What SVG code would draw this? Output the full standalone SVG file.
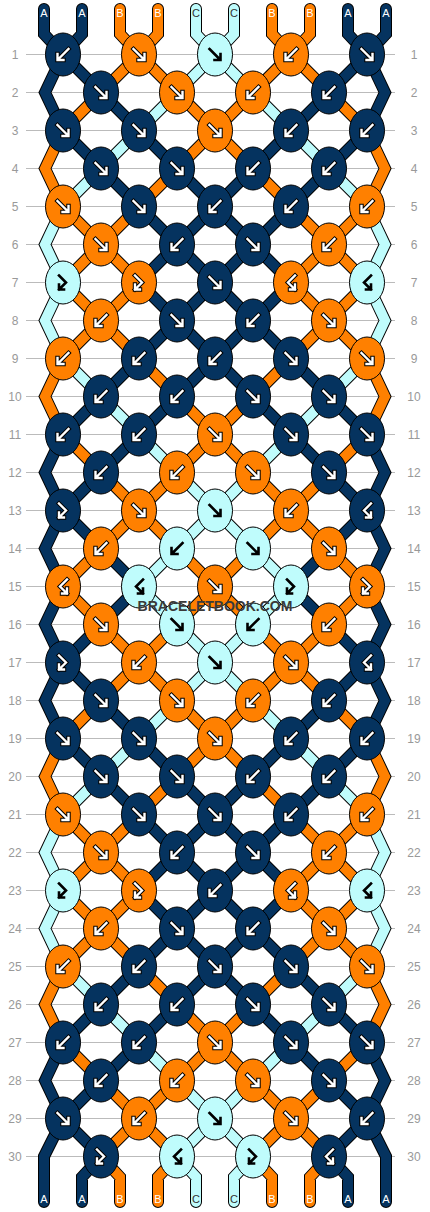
<svg xmlns="http://www.w3.org/2000/svg" xmlns:xlink="http://www.w3.org/1999/xlink" width="430" height="1212" viewBox="0 0 430 1212">
<style>
.A{fill:#05335f}.B{fill:#ff8000}.C{fill:#bffcfc}
ellipse{stroke:#000;stroke-width:1}
.ol{fill:none;stroke:#000;stroke-width:12;stroke-linecap:round;stroke-linejoin:miter}
.sA{fill:none;stroke:#05335f;stroke-width:10;stroke-linecap:round;stroke-linejoin:miter}
.sB{fill:none;stroke:#ff8000;stroke-width:10;stroke-linecap:round;stroke-linejoin:miter}
.sC{fill:none;stroke:#bffcfc;stroke-width:10;stroke-linecap:round;stroke-linejoin:miter}
.ao{fill:none;stroke:#000;stroke-width:4.4;stroke-linecap:square}
.aw{fill:none;stroke:#fff;stroke-width:2.4;stroke-linecap:square}
.ak{fill:none;stroke:#000;stroke-width:2.6;stroke-linecap:square}
.rl{fill:none;stroke:#bbb;stroke-width:1}
.rn{font-family:"Liberation Sans",Arial,sans-serif;font-size:12px;fill:#999;text-anchor:middle}
.lb{font-family:"Liberation Sans",Arial,sans-serif;font-size:11px;text-anchor:middle;fill:#fff}
.lc{fill:#333}
.wm{font-family:"Liberation Sans",Arial,sans-serif;font-size:14px;font-weight:bold;fill:#3a3a3a;text-anchor:middle}
</style>
<defs>
<path id="aF" d="M-5.5-5.5L4.5 4.5M-0.5 5.5H5.5V-0.5"/>
<path id="aB" d="M5.5-5.5L-4.5 4.5M0.5 5.5H-5.5V-0.5"/>
<path id="aFB" d="M-4-7L3 0L-4 7M-4 2V7H1"/>
<path id="aBF" d="M4-7L-3 0L4 7M4 2V7H-1"/>
<g id="wF"><use href="#aF" class="ao"/><use href="#aF" class="aw"/></g>
<g id="wB"><use href="#aB" class="ao"/><use href="#aB" class="aw"/></g>
<g id="wFB"><use href="#aFB" class="ao"/><use href="#aFB" class="aw"/></g>
<g id="wBF"><use href="#aBF" class="ao"/><use href="#aBF" class="aw"/></g>
<g id="kF"><use href="#aF" class="ak"/></g>
<g id="kB"><use href="#aB" class="ak"/></g>
<g id="kFB"><use href="#aFB" class="ak"/></g>
<g id="kBF"><use href="#aBF" class="ak"/></g>
<path id="pA" d="M63 54.5l38 38M367 54.5l-38 38M101 92.5l38 38M329 92.5l-38 38M63 130.5l38 38M139 130.5l38 38M291 130.5l-38 38M367 130.5l-38 38M101 168.5l38 38M177 168.5l38 38M253 168.5l-38 38M329 168.5l-38 38M139 206.5l38 38M215 206.5l-38 38M215 206.5l38 38M291 206.5l-38 38M177 244.5l-38 38M177 244.5l38 38M253 244.5l-38 38M253 244.5l38 38M139 282.5l38 38M215 282.5l-38 38M215 282.5l38 38M291 282.5l-38 38M177 320.5l-38 38M177 320.5l38 38M253 320.5l-38 38M253 320.5l38 38M139 358.5l-38 38M215 358.5l-38 38M215 358.5l38 38M291 358.5l38 38M101 396.5l-38 38M177 396.5l-38 38M253 396.5l38 38M329 396.5l38 38M139 434.5l-38 38M291 434.5l38 38M101 472.5l-38 38M329 472.5l38 38M63 510.5l38 38M367 510.5l-38 38M101 548.5l38 38M329 548.5l-38 38M139 586.5l-38 38M291 586.5l38 38M101 624.5l-38 38M329 624.5l38 38M63 662.5l38 38M367 662.5l-38 38M101 700.5l38 38M329 700.5l-38 38M63 738.5l38 38M139 738.5l38 38M291 738.5l-38 38M367 738.5l-38 38M101 776.5l38 38M177 776.5l38 38M253 776.5l-38 38M329 776.5l-38 38M139 814.5l38 38M215 814.5l-38 38M215 814.5l38 38M291 814.5l-38 38M177 852.5l-38 38M177 852.5l38 38M253 852.5l-38 38M253 852.5l38 38M139 890.5l38 38M215 890.5l-38 38M215 890.5l38 38M291 890.5l-38 38M177 928.5l-38 38M177 928.5l38 38M253 928.5l-38 38M253 928.5l38 38M139 966.5l-38 38M215 966.5l-38 38M215 966.5l38 38M291 966.5l38 38M101 1004.5l-38 38M177 1004.5l-38 38M253 1004.5l38 38M329 1004.5l38 38M139 1042.5l-38 38M291 1042.5l38 38M101 1080.5l-38 38M329 1080.5l38 38M63 1118.5l38 38M367 1118.5l-38 38M63 54.5L45 92.5L63 130.5M367 54.5L385 92.5L367 130.5M63 434.5L45 472.5L63 510.5M367 434.5L385 472.5L367 510.5M63 510.5L45 548.5L63 586.5M367 510.5L385 548.5L367 586.5M63 586.5L45 624.5L63 662.5M367 586.5L385 624.5L367 662.5M63 662.5L45 700.5L63 738.5M367 662.5L385 700.5L367 738.5M63 1042.5L45 1080.5L63 1118.5M367 1042.5L385 1080.5L367 1118.5M44 9V34L63 54.5M82 9V34L63 54.5M348 9V34L367 54.5M386 9V34L367 54.5M63 1118.5L44 1156.5V1202M367 1118.5L386 1156.5V1202M101 1156.5L82 1177V1202M329 1156.5L348 1177V1202"/>
<path id="pB" d="M139 54.5l-38 38M139 54.5l38 38M291 54.5l-38 38M291 54.5l38 38M101 92.5l-38 38M177 92.5l38 38M253 92.5l-38 38M329 92.5l38 38M215 130.5l-38 38M215 130.5l38 38M177 168.5l-38 38M253 168.5l38 38M63 206.5l38 38M139 206.5l-38 38M291 206.5l38 38M367 206.5l-38 38M101 244.5l-38 38M101 244.5l38 38M329 244.5l-38 38M329 244.5l38 38M63 282.5l38 38M139 282.5l-38 38M291 282.5l38 38M367 282.5l-38 38M101 320.5l-38 38M101 320.5l38 38M329 320.5l-38 38M329 320.5l38 38M139 358.5l38 38M291 358.5l-38 38M177 396.5l38 38M253 396.5l-38 38M63 434.5l38 38M215 434.5l-38 38M215 434.5l38 38M367 434.5l-38 38M101 472.5l38 38M177 472.5l-38 38M253 472.5l38 38M329 472.5l-38 38M139 510.5l-38 38M139 510.5l38 38M291 510.5l-38 38M291 510.5l38 38M101 548.5l-38 38M177 548.5l38 38M253 548.5l-38 38M329 548.5l38 38M63 586.5l38 38M215 586.5l-38 38M215 586.5l38 38M367 586.5l-38 38M101 624.5l38 38M177 624.5l-38 38M253 624.5l38 38M329 624.5l-38 38M139 662.5l-38 38M139 662.5l38 38M291 662.5l-38 38M291 662.5l38 38M101 700.5l-38 38M177 700.5l38 38M253 700.5l-38 38M329 700.5l38 38M215 738.5l-38 38M215 738.5l38 38M177 776.5l-38 38M253 776.5l38 38M63 814.5l38 38M139 814.5l-38 38M291 814.5l38 38M367 814.5l-38 38M101 852.5l-38 38M101 852.5l38 38M329 852.5l-38 38M329 852.5l38 38M63 890.5l38 38M139 890.5l-38 38M291 890.5l38 38M367 890.5l-38 38M101 928.5l-38 38M101 928.5l38 38M329 928.5l-38 38M329 928.5l38 38M139 966.5l38 38M291 966.5l-38 38M177 1004.5l38 38M253 1004.5l-38 38M63 1042.5l38 38M215 1042.5l-38 38M215 1042.5l38 38M367 1042.5l-38 38M101 1080.5l38 38M177 1080.5l-38 38M253 1080.5l38 38M329 1080.5l-38 38M139 1118.5l-38 38M139 1118.5l38 38M291 1118.5l-38 38M291 1118.5l38 38M63 130.5L45 168.5L63 206.5M367 130.5L385 168.5L367 206.5M63 358.5L45 396.5L63 434.5M367 358.5L385 396.5L367 434.5M63 738.5L45 776.5L63 814.5M367 738.5L385 776.5L367 814.5M63 966.5L45 1004.5L63 1042.5M367 966.5L385 1004.5L367 1042.5M120 9V34L139 54.5M158 9V34L139 54.5M272 9V34L291 54.5M310 9V34L291 54.5M101 1156.5L120 1177V1202M177 1156.5L158 1177V1202M253 1156.5L272 1177V1202M329 1156.5L310 1177V1202"/>
<path id="pC" d="M215 54.5l-38 38M215 54.5l38 38M177 92.5l-38 38M253 92.5l38 38M139 130.5l-38 38M291 130.5l38 38M101 168.5l-38 38M329 168.5l38 38M63 358.5l38 38M367 358.5l-38 38M101 396.5l38 38M329 396.5l-38 38M139 434.5l38 38M291 434.5l-38 38M177 472.5l38 38M253 472.5l-38 38M215 510.5l-38 38M215 510.5l38 38M177 548.5l-38 38M253 548.5l38 38M139 586.5l38 38M291 586.5l-38 38M177 624.5l38 38M253 624.5l-38 38M215 662.5l-38 38M215 662.5l38 38M177 700.5l-38 38M253 700.5l38 38M139 738.5l-38 38M291 738.5l38 38M101 776.5l-38 38M329 776.5l38 38M63 966.5l38 38M367 966.5l-38 38M101 1004.5l38 38M329 1004.5l-38 38M139 1042.5l38 38M291 1042.5l-38 38M177 1080.5l38 38M253 1080.5l-38 38M215 1118.5l-38 38M215 1118.5l38 38M63 206.5L45 244.5L63 282.5M367 206.5L385 244.5L367 282.5M63 282.5L45 320.5L63 358.5M367 282.5L385 320.5L367 358.5M63 814.5L45 852.5L63 890.5M367 814.5L385 852.5L367 890.5M63 890.5L45 928.5L63 966.5M367 890.5L385 928.5L367 966.5M196 9V34L215 54.5M234 9V34L215 54.5M177 1156.5L196 1177V1202M253 1156.5L234 1177V1202"/>
</defs>
<rect width="430" height="1212" fill="#fff"/>
<g id="rows">
<path class="rl" d="M26 54.5H395M26 92.5H395M26 130.5H395M26 168.5H395M26 206.5H395M26 244.5H395M26 282.5H395M26 320.5H395M26 358.5H395M26 396.5H395M26 434.5H395M26 472.5H395M26 510.5H395M26 548.5H395M26 586.5H395M26 624.5H395M26 662.5H395M26 700.5H395M26 738.5H395M26 776.5H395M26 814.5H395M26 852.5H395M26 890.5H395M26 928.5H395M26 966.5H395M26 1004.5H395M26 1042.5H395M26 1080.5H395M26 1118.5H395M26 1156.5H395"/>
<text class="rn" x="15" y="59">1</text><text class="rn" x="414" y="59">1</text>
<text class="rn" x="15" y="97">2</text><text class="rn" x="414" y="97">2</text>
<text class="rn" x="15" y="135">3</text><text class="rn" x="414" y="135">3</text>
<text class="rn" x="15" y="173">4</text><text class="rn" x="414" y="173">4</text>
<text class="rn" x="15" y="211">5</text><text class="rn" x="414" y="211">5</text>
<text class="rn" x="15" y="249">6</text><text class="rn" x="414" y="249">6</text>
<text class="rn" x="15" y="287">7</text><text class="rn" x="414" y="287">7</text>
<text class="rn" x="15" y="325">8</text><text class="rn" x="414" y="325">8</text>
<text class="rn" x="15" y="363">9</text><text class="rn" x="414" y="363">9</text>
<text class="rn" x="15" y="401">10</text><text class="rn" x="414" y="401">10</text>
<text class="rn" x="15" y="439">11</text><text class="rn" x="414" y="439">11</text>
<text class="rn" x="15" y="477">12</text><text class="rn" x="414" y="477">12</text>
<text class="rn" x="15" y="515">13</text><text class="rn" x="414" y="515">13</text>
<text class="rn" x="15" y="553">14</text><text class="rn" x="414" y="553">14</text>
<text class="rn" x="15" y="591">15</text><text class="rn" x="414" y="591">15</text>
<text class="rn" x="15" y="629">16</text><text class="rn" x="414" y="629">16</text>
<text class="rn" x="15" y="667">17</text><text class="rn" x="414" y="667">17</text>
<text class="rn" x="15" y="705">18</text><text class="rn" x="414" y="705">18</text>
<text class="rn" x="15" y="743">19</text><text class="rn" x="414" y="743">19</text>
<text class="rn" x="15" y="781">20</text><text class="rn" x="414" y="781">20</text>
<text class="rn" x="15" y="819">21</text><text class="rn" x="414" y="819">21</text>
<text class="rn" x="15" y="857">22</text><text class="rn" x="414" y="857">22</text>
<text class="rn" x="15" y="895">23</text><text class="rn" x="414" y="895">23</text>
<text class="rn" x="15" y="933">24</text><text class="rn" x="414" y="933">24</text>
<text class="rn" x="15" y="971">25</text><text class="rn" x="414" y="971">25</text>
<text class="rn" x="15" y="1009">26</text><text class="rn" x="414" y="1009">26</text>
<text class="rn" x="15" y="1047">27</text><text class="rn" x="414" y="1047">27</text>
<text class="rn" x="15" y="1085">28</text><text class="rn" x="414" y="1085">28</text>
<text class="rn" x="15" y="1123">29</text><text class="rn" x="414" y="1123">29</text>
<text class="rn" x="15" y="1161">30</text><text class="rn" x="414" y="1161">30</text>
</g>
<g id="connectors">
<use href="#pA" class="ol"/><use href="#pB" class="ol"/><use href="#pC" class="ol"/>
<use href="#pA" class="sA"/><use href="#pB" class="sB"/><use href="#pC" class="sC"/>
</g>
<g id="labels">
<text class="lb" x="44" y="17">A</text><text class="lb" x="82" y="17">A</text><text class="lb" x="120" y="17">B</text><text class="lb" x="158" y="17">B</text><text class="lb lc" x="196" y="17">C</text><text class="lb lc" x="234" y="17">C</text><text class="lb" x="272" y="17">B</text><text class="lb" x="310" y="17">B</text><text class="lb" x="348" y="17">A</text><text class="lb" x="386" y="17">A</text>
<text class="lb" x="44" y="1203">A</text><text class="lb" x="82" y="1203">A</text><text class="lb" x="120" y="1203">B</text><text class="lb" x="158" y="1203">B</text><text class="lb lc" x="196" y="1203">C</text><text class="lb lc" x="234" y="1203">C</text><text class="lb" x="272" y="1203">B</text><text class="lb" x="310" y="1203">B</text><text class="lb" x="348" y="1203">A</text><text class="lb" x="386" y="1203">A</text>
</g>
<g id="knots">
<g id="k1-1" transform="translate(63 54.5)"><ellipse class="A" rx="17.5" ry="21.5"/><use href="#wB"/></g>
<g id="k1-2" transform="translate(139 54.5)"><ellipse class="B" rx="17.5" ry="21.5"/><use href="#wF"/></g>
<g id="k1-3" transform="translate(215 54.5)"><ellipse class="C" rx="17.5" ry="21.5"/><use href="#kF"/></g>
<g id="k1-4" transform="translate(291 54.5)"><ellipse class="B" rx="17.5" ry="21.5"/><use href="#wB"/></g>
<g id="k1-5" transform="translate(367 54.5)"><ellipse class="A" rx="17.5" ry="21.5"/><use href="#wF"/></g>
<g id="k2-1" transform="translate(101 92.5)"><ellipse class="A" rx="17.5" ry="21.5"/><use href="#wF"/></g>
<g id="k2-2" transform="translate(177 92.5)"><ellipse class="B" rx="17.5" ry="21.5"/><use href="#wF"/></g>
<g id="k2-3" transform="translate(253 92.5)"><ellipse class="B" rx="17.5" ry="21.5"/><use href="#wB"/></g>
<g id="k2-4" transform="translate(329 92.5)"><ellipse class="A" rx="17.5" ry="21.5"/><use href="#wB"/></g>
<g id="k3-1" transform="translate(63 130.5)"><ellipse class="A" rx="17.5" ry="21.5"/><use href="#wF"/></g>
<g id="k3-2" transform="translate(139 130.5)"><ellipse class="A" rx="17.5" ry="21.5"/><use href="#wF"/></g>
<g id="k3-3" transform="translate(215 130.5)"><ellipse class="B" rx="17.5" ry="21.5"/><use href="#wF"/></g>
<g id="k3-4" transform="translate(291 130.5)"><ellipse class="A" rx="17.5" ry="21.5"/><use href="#wB"/></g>
<g id="k3-5" transform="translate(367 130.5)"><ellipse class="A" rx="17.5" ry="21.5"/><use href="#wB"/></g>
<g id="k4-1" transform="translate(101 168.5)"><ellipse class="A" rx="17.5" ry="21.5"/><use href="#wF"/></g>
<g id="k4-2" transform="translate(177 168.5)"><ellipse class="A" rx="17.5" ry="21.5"/><use href="#wF"/></g>
<g id="k4-3" transform="translate(253 168.5)"><ellipse class="A" rx="17.5" ry="21.5"/><use href="#wB"/></g>
<g id="k4-4" transform="translate(329 168.5)"><ellipse class="A" rx="17.5" ry="21.5"/><use href="#wB"/></g>
<g id="k5-1" transform="translate(63 206.5)"><ellipse class="B" rx="17.5" ry="21.5"/><use href="#wF"/></g>
<g id="k5-2" transform="translate(139 206.5)"><ellipse class="A" rx="17.5" ry="21.5"/><use href="#wF"/></g>
<g id="k5-3" transform="translate(215 206.5)"><ellipse class="A" rx="17.5" ry="21.5"/><use href="#wB"/></g>
<g id="k5-4" transform="translate(291 206.5)"><ellipse class="A" rx="17.5" ry="21.5"/><use href="#wB"/></g>
<g id="k5-5" transform="translate(367 206.5)"><ellipse class="B" rx="17.5" ry="21.5"/><use href="#wB"/></g>
<g id="k6-1" transform="translate(101 244.5)"><ellipse class="B" rx="17.5" ry="21.5"/><use href="#wF"/></g>
<g id="k6-2" transform="translate(177 244.5)"><ellipse class="A" rx="17.5" ry="21.5"/><use href="#wB"/></g>
<g id="k6-3" transform="translate(253 244.5)"><ellipse class="A" rx="17.5" ry="21.5"/><use href="#wF"/></g>
<g id="k6-4" transform="translate(329 244.5)"><ellipse class="B" rx="17.5" ry="21.5"/><use href="#wB"/></g>
<g id="k7-1" transform="translate(63 282.5)"><ellipse class="C" rx="17.5" ry="21.5"/><use href="#kFB"/></g>
<g id="k7-2" transform="translate(139 282.5)"><ellipse class="B" rx="17.5" ry="21.5"/><use href="#wFB"/></g>
<g id="k7-3" transform="translate(215 282.5)"><ellipse class="A" rx="17.5" ry="21.5"/><use href="#wF"/></g>
<g id="k7-4" transform="translate(291 282.5)"><ellipse class="B" rx="17.5" ry="21.5"/><use href="#wBF"/></g>
<g id="k7-5" transform="translate(367 282.5)"><ellipse class="C" rx="17.5" ry="21.5"/><use href="#kBF"/></g>
<g id="k8-1" transform="translate(101 320.5)"><ellipse class="B" rx="17.5" ry="21.5"/><use href="#wB"/></g>
<g id="k8-2" transform="translate(177 320.5)"><ellipse class="A" rx="17.5" ry="21.5"/><use href="#wF"/></g>
<g id="k8-3" transform="translate(253 320.5)"><ellipse class="A" rx="17.5" ry="21.5"/><use href="#wB"/></g>
<g id="k8-4" transform="translate(329 320.5)"><ellipse class="B" rx="17.5" ry="21.5"/><use href="#wF"/></g>
<g id="k9-1" transform="translate(63 358.5)"><ellipse class="B" rx="17.5" ry="21.5"/><use href="#wB"/></g>
<g id="k9-2" transform="translate(139 358.5)"><ellipse class="A" rx="17.5" ry="21.5"/><use href="#wB"/></g>
<g id="k9-3" transform="translate(215 358.5)"><ellipse class="A" rx="17.5" ry="21.5"/><use href="#wB"/></g>
<g id="k9-4" transform="translate(291 358.5)"><ellipse class="A" rx="17.5" ry="21.5"/><use href="#wF"/></g>
<g id="k9-5" transform="translate(367 358.5)"><ellipse class="B" rx="17.5" ry="21.5"/><use href="#wF"/></g>
<g id="k10-1" transform="translate(101 396.5)"><ellipse class="A" rx="17.5" ry="21.5"/><use href="#wB"/></g>
<g id="k10-2" transform="translate(177 396.5)"><ellipse class="A" rx="17.5" ry="21.5"/><use href="#wB"/></g>
<g id="k10-3" transform="translate(253 396.5)"><ellipse class="A" rx="17.5" ry="21.5"/><use href="#wF"/></g>
<g id="k10-4" transform="translate(329 396.5)"><ellipse class="A" rx="17.5" ry="21.5"/><use href="#wF"/></g>
<g id="k11-1" transform="translate(63 434.5)"><ellipse class="A" rx="17.5" ry="21.5"/><use href="#wB"/></g>
<g id="k11-2" transform="translate(139 434.5)"><ellipse class="A" rx="17.5" ry="21.5"/><use href="#wB"/></g>
<g id="k11-3" transform="translate(215 434.5)"><ellipse class="B" rx="17.5" ry="21.5"/><use href="#wF"/></g>
<g id="k11-4" transform="translate(291 434.5)"><ellipse class="A" rx="17.5" ry="21.5"/><use href="#wF"/></g>
<g id="k11-5" transform="translate(367 434.5)"><ellipse class="A" rx="17.5" ry="21.5"/><use href="#wF"/></g>
<g id="k12-1" transform="translate(101 472.5)"><ellipse class="A" rx="17.5" ry="21.5"/><use href="#wB"/></g>
<g id="k12-2" transform="translate(177 472.5)"><ellipse class="B" rx="17.5" ry="21.5"/><use href="#wB"/></g>
<g id="k12-3" transform="translate(253 472.5)"><ellipse class="B" rx="17.5" ry="21.5"/><use href="#wF"/></g>
<g id="k12-4" transform="translate(329 472.5)"><ellipse class="A" rx="17.5" ry="21.5"/><use href="#wF"/></g>
<g id="k13-1" transform="translate(63 510.5)"><ellipse class="A" rx="17.5" ry="21.5"/><use href="#wFB"/></g>
<g id="k13-2" transform="translate(139 510.5)"><ellipse class="B" rx="17.5" ry="21.5"/><use href="#wF"/></g>
<g id="k13-3" transform="translate(215 510.5)"><ellipse class="C" rx="17.5" ry="21.5"/><use href="#kF"/></g>
<g id="k13-4" transform="translate(291 510.5)"><ellipse class="B" rx="17.5" ry="21.5"/><use href="#wB"/></g>
<g id="k13-5" transform="translate(367 510.5)"><ellipse class="A" rx="17.5" ry="21.5"/><use href="#wBF"/></g>
<g id="k14-1" transform="translate(101 548.5)"><ellipse class="B" rx="17.5" ry="21.5"/><use href="#wB"/></g>
<g id="k14-2" transform="translate(177 548.5)"><ellipse class="C" rx="17.5" ry="21.5"/><use href="#kB"/></g>
<g id="k14-3" transform="translate(253 548.5)"><ellipse class="C" rx="17.5" ry="21.5"/><use href="#kF"/></g>
<g id="k14-4" transform="translate(329 548.5)"><ellipse class="B" rx="17.5" ry="21.5"/><use href="#wF"/></g>
<g id="k15-1" transform="translate(63 586.5)"><ellipse class="B" rx="17.5" ry="21.5"/><use href="#wBF"/></g>
<g id="k15-2" transform="translate(139 586.5)"><ellipse class="C" rx="17.5" ry="21.5"/><use href="#kBF"/></g>
<g id="k15-3" transform="translate(215 586.5)"><ellipse class="B" rx="17.5" ry="21.5"/><use href="#wF"/></g>
<g id="k15-4" transform="translate(291 586.5)"><ellipse class="C" rx="17.5" ry="21.5"/><use href="#kFB"/></g>
<g id="k15-5" transform="translate(367 586.5)"><ellipse class="B" rx="17.5" ry="21.5"/><use href="#wFB"/></g>
<g id="k16-1" transform="translate(101 624.5)"><ellipse class="B" rx="17.5" ry="21.5"/><use href="#wF"/></g>
<g id="k16-2" transform="translate(177 624.5)"><ellipse class="C" rx="17.5" ry="21.5"/><use href="#kF"/></g>
<g id="k16-3" transform="translate(253 624.5)"><ellipse class="C" rx="17.5" ry="21.5"/><use href="#kB"/></g>
<g id="k16-4" transform="translate(329 624.5)"><ellipse class="B" rx="17.5" ry="21.5"/><use href="#wB"/></g>
<g id="k17-1" transform="translate(63 662.5)"><ellipse class="A" rx="17.5" ry="21.5"/><use href="#wFB"/></g>
<g id="k17-2" transform="translate(139 662.5)"><ellipse class="B" rx="17.5" ry="21.5"/><use href="#wB"/></g>
<g id="k17-3" transform="translate(215 662.5)"><ellipse class="C" rx="17.5" ry="21.5"/><use href="#kF"/></g>
<g id="k17-4" transform="translate(291 662.5)"><ellipse class="B" rx="17.5" ry="21.5"/><use href="#wF"/></g>
<g id="k17-5" transform="translate(367 662.5)"><ellipse class="A" rx="17.5" ry="21.5"/><use href="#wBF"/></g>
<g id="k18-1" transform="translate(101 700.5)"><ellipse class="A" rx="17.5" ry="21.5"/><use href="#wF"/></g>
<g id="k18-2" transform="translate(177 700.5)"><ellipse class="B" rx="17.5" ry="21.5"/><use href="#wF"/></g>
<g id="k18-3" transform="translate(253 700.5)"><ellipse class="B" rx="17.5" ry="21.5"/><use href="#wB"/></g>
<g id="k18-4" transform="translate(329 700.5)"><ellipse class="A" rx="17.5" ry="21.5"/><use href="#wB"/></g>
<g id="k19-1" transform="translate(63 738.5)"><ellipse class="A" rx="17.5" ry="21.5"/><use href="#wF"/></g>
<g id="k19-2" transform="translate(139 738.5)"><ellipse class="A" rx="17.5" ry="21.5"/><use href="#wF"/></g>
<g id="k19-3" transform="translate(215 738.5)"><ellipse class="B" rx="17.5" ry="21.5"/><use href="#wF"/></g>
<g id="k19-4" transform="translate(291 738.5)"><ellipse class="A" rx="17.5" ry="21.5"/><use href="#wB"/></g>
<g id="k19-5" transform="translate(367 738.5)"><ellipse class="A" rx="17.5" ry="21.5"/><use href="#wB"/></g>
<g id="k20-1" transform="translate(101 776.5)"><ellipse class="A" rx="17.5" ry="21.5"/><use href="#wF"/></g>
<g id="k20-2" transform="translate(177 776.5)"><ellipse class="A" rx="17.5" ry="21.5"/><use href="#wF"/></g>
<g id="k20-3" transform="translate(253 776.5)"><ellipse class="A" rx="17.5" ry="21.5"/><use href="#wB"/></g>
<g id="k20-4" transform="translate(329 776.5)"><ellipse class="A" rx="17.5" ry="21.5"/><use href="#wB"/></g>
<g id="k21-1" transform="translate(63 814.5)"><ellipse class="B" rx="17.5" ry="21.5"/><use href="#wF"/></g>
<g id="k21-2" transform="translate(139 814.5)"><ellipse class="A" rx="17.5" ry="21.5"/><use href="#wF"/></g>
<g id="k21-3" transform="translate(215 814.5)"><ellipse class="A" rx="17.5" ry="21.5"/><use href="#wF"/></g>
<g id="k21-4" transform="translate(291 814.5)"><ellipse class="A" rx="17.5" ry="21.5"/><use href="#wB"/></g>
<g id="k21-5" transform="translate(367 814.5)"><ellipse class="B" rx="17.5" ry="21.5"/><use href="#wB"/></g>
<g id="k22-1" transform="translate(101 852.5)"><ellipse class="B" rx="17.5" ry="21.5"/><use href="#wF"/></g>
<g id="k22-2" transform="translate(177 852.5)"><ellipse class="A" rx="17.5" ry="21.5"/><use href="#wB"/></g>
<g id="k22-3" transform="translate(253 852.5)"><ellipse class="A" rx="17.5" ry="21.5"/><use href="#wF"/></g>
<g id="k22-4" transform="translate(329 852.5)"><ellipse class="B" rx="17.5" ry="21.5"/><use href="#wB"/></g>
<g id="k23-1" transform="translate(63 890.5)"><ellipse class="C" rx="17.5" ry="21.5"/><use href="#kFB"/></g>
<g id="k23-2" transform="translate(139 890.5)"><ellipse class="B" rx="17.5" ry="21.5"/><use href="#wFB"/></g>
<g id="k23-3" transform="translate(215 890.5)"><ellipse class="A" rx="17.5" ry="21.5"/><use href="#wB"/></g>
<g id="k23-4" transform="translate(291 890.5)"><ellipse class="B" rx="17.5" ry="21.5"/><use href="#wBF"/></g>
<g id="k23-5" transform="translate(367 890.5)"><ellipse class="C" rx="17.5" ry="21.5"/><use href="#kBF"/></g>
<g id="k24-1" transform="translate(101 928.5)"><ellipse class="B" rx="17.5" ry="21.5"/><use href="#wB"/></g>
<g id="k24-2" transform="translate(177 928.5)"><ellipse class="A" rx="17.5" ry="21.5"/><use href="#wF"/></g>
<g id="k24-3" transform="translate(253 928.5)"><ellipse class="A" rx="17.5" ry="21.5"/><use href="#wB"/></g>
<g id="k24-4" transform="translate(329 928.5)"><ellipse class="B" rx="17.5" ry="21.5"/><use href="#wF"/></g>
<g id="k25-1" transform="translate(63 966.5)"><ellipse class="B" rx="17.5" ry="21.5"/><use href="#wB"/></g>
<g id="k25-2" transform="translate(139 966.5)"><ellipse class="A" rx="17.5" ry="21.5"/><use href="#wB"/></g>
<g id="k25-3" transform="translate(215 966.5)"><ellipse class="A" rx="17.5" ry="21.5"/><use href="#wF"/></g>
<g id="k25-4" transform="translate(291 966.5)"><ellipse class="A" rx="17.5" ry="21.5"/><use href="#wF"/></g>
<g id="k25-5" transform="translate(367 966.5)"><ellipse class="B" rx="17.5" ry="21.5"/><use href="#wF"/></g>
<g id="k26-1" transform="translate(101 1004.5)"><ellipse class="A" rx="17.5" ry="21.5"/><use href="#wB"/></g>
<g id="k26-2" transform="translate(177 1004.5)"><ellipse class="A" rx="17.5" ry="21.5"/><use href="#wB"/></g>
<g id="k26-3" transform="translate(253 1004.5)"><ellipse class="A" rx="17.5" ry="21.5"/><use href="#wF"/></g>
<g id="k26-4" transform="translate(329 1004.5)"><ellipse class="A" rx="17.5" ry="21.5"/><use href="#wF"/></g>
<g id="k27-1" transform="translate(63 1042.5)"><ellipse class="A" rx="17.5" ry="21.5"/><use href="#wB"/></g>
<g id="k27-2" transform="translate(139 1042.5)"><ellipse class="A" rx="17.5" ry="21.5"/><use href="#wB"/></g>
<g id="k27-3" transform="translate(215 1042.5)"><ellipse class="B" rx="17.5" ry="21.5"/><use href="#wF"/></g>
<g id="k27-4" transform="translate(291 1042.5)"><ellipse class="A" rx="17.5" ry="21.5"/><use href="#wF"/></g>
<g id="k27-5" transform="translate(367 1042.5)"><ellipse class="A" rx="17.5" ry="21.5"/><use href="#wF"/></g>
<g id="k28-1" transform="translate(101 1080.5)"><ellipse class="A" rx="17.5" ry="21.5"/><use href="#wB"/></g>
<g id="k28-2" transform="translate(177 1080.5)"><ellipse class="B" rx="17.5" ry="21.5"/><use href="#wB"/></g>
<g id="k28-3" transform="translate(253 1080.5)"><ellipse class="B" rx="17.5" ry="21.5"/><use href="#wF"/></g>
<g id="k28-4" transform="translate(329 1080.5)"><ellipse class="A" rx="17.5" ry="21.5"/><use href="#wF"/></g>
<g id="k29-1" transform="translate(63 1118.5)"><ellipse class="A" rx="17.5" ry="21.5"/><use href="#wF"/></g>
<g id="k29-2" transform="translate(139 1118.5)"><ellipse class="B" rx="17.5" ry="21.5"/><use href="#wB"/></g>
<g id="k29-3" transform="translate(215 1118.5)"><ellipse class="C" rx="17.5" ry="21.5"/><use href="#kF"/></g>
<g id="k29-4" transform="translate(291 1118.5)"><ellipse class="B" rx="17.5" ry="21.5"/><use href="#wF"/></g>
<g id="k29-5" transform="translate(367 1118.5)"><ellipse class="A" rx="17.5" ry="21.5"/><use href="#wB"/></g>
<g id="k30-1" transform="translate(101 1156.5)"><ellipse class="A" rx="17.5" ry="21.5"/><use href="#wFB"/></g>
<g id="k30-2" transform="translate(177 1156.5)"><ellipse class="C" rx="17.5" ry="21.5"/><use href="#kBF"/></g>
<g id="k30-3" transform="translate(253 1156.5)"><ellipse class="C" rx="17.5" ry="21.5"/><use href="#kFB"/></g>
<g id="k30-4" transform="translate(329 1156.5)"><ellipse class="A" rx="17.5" ry="21.5"/><use href="#wBF"/></g>
</g>
<text class="wm" x="215" y="611">BRACELETBOOK.COM</text>
</svg>
